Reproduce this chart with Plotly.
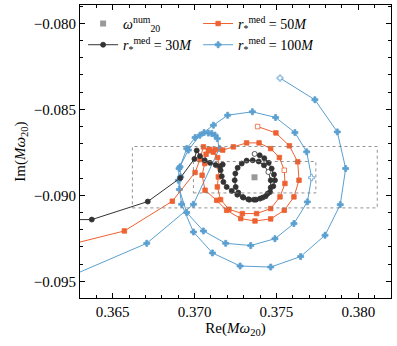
import plotly.graph_objects as go

# numerical QNM frequency
omega_re = [0.37366]
omega_im = [-0.08895]

# fits with r_med = 30M
re_30 = [0.36000, 0.36372, 0.36714, 0.36913, 0.36999, 0.37013, 0.37033, 0.37062, 0.37094, 0.37129,
         0.37155, 0.37172, 0.37159, 0.37166, 0.37176, 0.37196, 0.37227, 0.37261, 0.37298, 0.37335,
         0.37375, 0.37416, 0.37446, 0.37465, 0.37465, 0.37451, 0.37424, 0.37392, 0.37355, 0.37318,
         0.37288, 0.37263, 0.37249, 0.37245, 0.37251, 0.37267, 0.37294, 0.37328, 0.37363, 0.37400,
         0.37434, 0.37461, 0.37481, 0.37491, 0.37485, 0.37471, 0.37453, 0.37426, 0.37398, 0.37367]
im_30 = [-0.09141, -0.09141, -0.09036, -0.08899, -0.08788, -0.08739, -0.08772, -0.08796, -0.08811, -0.08823,
         -0.08831, -0.08821, -0.08854, -0.08889, -0.08922, -0.08951, -0.08974, -0.08996, -0.09013, -0.09025,
         -0.09025, -0.09013, -0.08990, -0.08955, -0.08912, -0.08864, -0.08825, -0.08803, -0.08796, -0.08798,
         -0.08815, -0.08840, -0.08873, -0.08912, -0.08951, -0.08984, -0.09009, -0.09023, -0.09025, -0.09019,
         -0.09005, -0.08980, -0.08947, -0.08912, -0.08879, -0.08844, -0.08811, -0.08784, -0.08767, -0.08759]
open_30 = [25, 49]

# fits with r_med = 50M
re_50 = [0.36016, 0.36571, 0.36864, 0.37003, 0.37033, 0.37054, 0.37084, 0.37115, 0.37141, 0.37151,
         0.37145, 0.37139, 0.37159, 0.37210, 0.37292, 0.37379, 0.37465, 0.37522, 0.37552, 0.37548,
         0.37518, 0.37465, 0.37394, 0.37318, 0.37237, 0.37172, 0.37125, 0.37090, 0.37070, 0.37062,
         0.37046, 0.37064, 0.37135, 0.37196, 0.37282, 0.37369, 0.37465, 0.37548, 0.37607, 0.37638,
         0.37630, 0.37579, 0.37497, 0.37385]
im_50 = [-0.09339, -0.09207, -0.09034, -0.08867, -0.08792, -0.08718, -0.08741, -0.08749, -0.08780, -0.08834,
         -0.08893, -0.08951, -0.09025, -0.09081, -0.09106, -0.09106, -0.09077, -0.09009, -0.08931, -0.08854,
         -0.08780, -0.08728, -0.08695, -0.08695, -0.08718, -0.08737, -0.08734, -0.08732, -0.08761, -0.08815,
         -0.08883, -0.08970, -0.09029, -0.09087, -0.09135, -0.09149, -0.09137, -0.09087, -0.09009, -0.08912,
         -0.08805, -0.08712, -0.08637, -0.08600]
open_50 = [19, 43]

# fits with r_med = 100M
re_100 = [0.36016, 0.36708, 0.36993, 0.37151, 0.37139, 0.37125, 0.37105, 0.37084, 0.37058, 0.37003,
          0.36952, 0.36911, 0.36915, 0.36907, 0.36952, 0.37054, 0.37190, 0.37343, 0.37491, 0.37607,
          0.37689, 0.37715, 0.37685, 0.37613, 0.37495, 0.37353, 0.37202, 0.37115, 0.37033, 0.36962,
          0.36905, 0.36901, 0.36921, 0.36993, 0.37109, 0.37278, 0.37465, 0.37648, 0.37797, 0.37890,
          0.37923, 0.37872, 0.37735, 0.37522]
im_100 = [-0.09562, -0.09279, -0.09052, -0.08728, -0.08670, -0.08650, -0.08640, -0.08638, -0.08635, -0.08664,
          -0.08728, -0.08834, -0.08893, -0.08966, -0.09100, -0.09207, -0.09279, -0.09292, -0.09252, -0.09164,
          -0.09038, -0.08897, -0.08747, -0.08635, -0.08547, -0.08514, -0.08534, -0.08592, -0.08650, -0.08737,
          -0.08844, -0.08912, -0.09052, -0.09213, -0.09335, -0.09411, -0.09417, -0.09356, -0.09232, -0.09054,
          -0.08844, -0.08631, -0.08444, -0.08318]
open_100 = [21, 43]

# dotted boxes (inset regions)
box_outer = [0.36620, 0.38116, -0.09073, -0.08716]
box_inner = [0.36993, 0.37741, -0.08986, -0.08803]

FONT = "Liberation Serif"
BLACK = "#333333"
ORANGE = "#EE6131"
BLUE = "#5A9FD0"


def series(re, im, open_idx, color, symbol, size, name, rank):
    fill = ["white" if i in open_idx else color for i in range(len(re))]
    return go.Scatter(
        x=re, y=im, mode="lines+markers", name=name, legendrank=rank,
        line=dict(color=color, width=1),
        marker=dict(symbol=symbol, size=size, color=fill, line=dict(color=color, width=0.8)),
    )


fig = go.Figure()

for b in (box_outer, box_inner):
    fig.add_shape(type="rect", x0=b[0], x1=b[1], y0=b[2], y1=b[3],
                  line=dict(color="#777777", width=0.8, dash="dot"))

fig.add_trace(series(re_100, im_100, open_100, BLUE, "cross", 5,
                     "<i>r</i><sub>*</sub><sup>med</sup> = 100<i>M</i>", 4))
fig.add_trace(series(re_50, im_50, open_50, ORANGE, "square", 4.5,
                     "<i>r</i><sub>*</sub><sup>med</sup> = 50<i>M</i>", 2))
fig.add_trace(series(re_30, im_30, open_30, BLACK, "circle", 5,
                     "<i>r</i><sub>*</sub><sup>med</sup> = 30<i>M</i>", 3))
fig.add_trace(go.Scatter(
    x=omega_re, y=omega_im, mode="markers", name="<i>ω</i><sup>num</sup><sub>20</sub>",
    legendrank=1, marker=dict(symbol="square", size=6, color="#999999"),
))

axis_common = dict(
    showline=True, linecolor="black", linewidth=1, mirror="allticks",
    ticks="inside", ticklen=5, tickcolor="black", showgrid=False, zeroline=False,
    tickfont=dict(family=FONT, size=15, color="black"),
    minor=dict(ticks="inside", ticklen=3, tickcolor="black", dtick=0.001),
    tickformat=".3f", dtick=0.005, automargin=False,
)

fig.update_xaxes(range=[0.3630, 0.3820], tick0=0.365,
                 title=dict(text="Re(<i>Mω</i><sub>20</sub>)", font=dict(family=FONT, size=15), standoff=2),
                 **axis_common)
fig.update_yaxes(range=[-0.09597, -0.07893], tick0=-0.080,
                 title=dict(text="Im(<i>Mω</i><sub>20</sub>)", font=dict(family=FONT, size=15), standoff=4),
                 **axis_common)

fig.update_layout(
    width=397, height=346,
    margin=dict(l=80, r=6, t=5, b=48),
    plot_bgcolor="white", paper_bgcolor="white",
    font=dict(family=FONT, size=14, color="black"),
    legend=dict(orientation="h", x=0.01, y=0.99, xanchor="left", yanchor="top",
                entrywidth=70, itemwidth=30, bgcolor="rgba(0,0,0,0)",
                tracegroupgap=0, font=dict(family=FONT, size=14)),
)

# drop the browser's default page margin so the figure sits at the window corner
fig.write_html("out.html", config={"displayModeBar": False},
               post_script="document.body.style.margin='0';")
